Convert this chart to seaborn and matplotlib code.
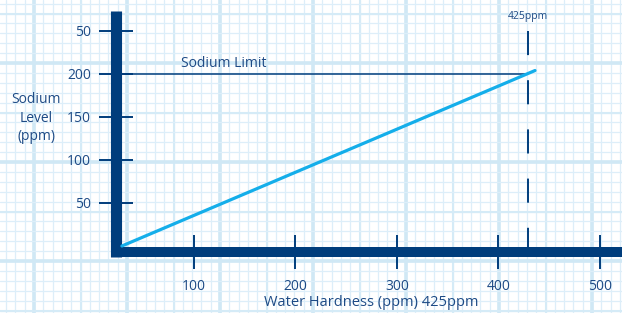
import numpy as np
import matplotlib
matplotlib.use("Agg")
import matplotlib.pyplot as plt
import seaborn as sns

# ── Data ──────────────────────────────────────────────────────────────
hardness = [29, 436]          # water hardness (ppm), line endpoints
sodium = [0, 204]             # sodium level (ppm)
sodium_limit = 200
limit_hardness = 429          # the "425ppm" marker
x_ticks = [100, 200, 300, 400, 500]
y_ticks = [50, 100, 150, 200, 250]
y_tick_labels = ["50", "100", "150", "200", "50"]

NAVY = "#003d7c"
TEXT = "#1d4a85"
CYAN = "#14aeea"

sns.set_style("white")
plt.rcParams["font.family"] = ["Open Sans", "DejaVu Sans"]

W, H = 622, 313
fig = plt.figure(figsize=(W / 100, H / 100), dpi=100)

# ── Graph paper background (pixel space) ──────────────────────────────
bg = fig.add_axes([0, 0, 1, 1])
bg.set_xlim(0, W)
bg.set_ylim(H, 0)
bg.axis("off")
for x in np.arange(34 - 9.3 * 5, W, 9.3):
    bg.axvline(x, color="#ddeef9", lw=0.9, zorder=0)
for x in np.arange(34 - 46.5, W, 46.5):
    bg.axvline(x, color="#d5ebf7", lw=1.5, zorder=0)
for x in np.arange(34, W, 93):
    bg.axvline(x, color="#d0e8f5", lw=2.6, zorder=0)
for y in np.arange(63 - 9.9 * 7, H, 9.9):
    bg.axhline(y, color="#ddeef9", lw=0.9, zorder=0)
for y in np.arange(63 - 49.5, H, 49.5):
    bg.axhline(y, color="#d5ebf7", lw=1.5, zorder=0)
for y in np.arange(63, H, 99):
    bg.axhline(y, color="#d0e8f5", lw=2.6, zorder=0)

# ── Main axes (data space) ────────────────────────────────────────────
ax = fig.add_axes([0, 0, 1, 1])
ax.patch.set_alpha(0)
ax.set_xlim(-91.1, 521.7)
ax.set_ylim(-77.9, 286)

sns.lineplot(x=hardness, y=sodium, ax=ax, color=CYAN, lw=2.3, zorder=3)
ax.hlines(sodium_limit, 23.6, limit_hardness, color=NAVY, lw=1.1, zorder=2)
# draw top-down so the dash pattern starts at the top
ax.plot([limit_hardness, limit_hardness], [250, -1], color=NAVY, lw=1.4,
        linestyle=(0, (12.4, 12.9)), solid_capstyle="butt",
        dash_capstyle="butt", zorder=2)

ax.text(87, sodium_limit + 4, "Sodium Limit", color=TEXT, fontsize=10,
        ha="left", va="bottom")
ax.text(limit_hardness, 267, "425ppm", color=TEXT, fontsize=7.5,
        ha="center", va="center")

# thick L-shaped axes
for side in ["top", "right"]:
    ax.spines[side].set_visible(False)
ax.spines["left"].set_position(("data", 23.6))
ax.spines["left"].set_bounds(-12.8, 273)
ax.spines["left"].set_linewidth(8)
ax.spines["left"].set_color(NAVY)
ax.spines["left"].set_capstyle("butt")
ax.spines["bottom"].set_position(("data", -7))
ax.spines["bottom"].set_bounds(18.2, 521.7)
ax.spines["bottom"].set_linewidth(7.2)
ax.spines["bottom"].set_color(NAVY)
ax.spines["bottom"].set_capstyle("butt")

ax.set_xticks(x_ticks)
ax.set_yticks(y_ticks)
ax.set_yticklabels(y_tick_labels)
ax.tick_params(axis="both", bottom=True, left=True, direction="inout",
               length=24.5, width=1.4, color=NAVY, labelcolor=TEXT,
               labelsize=10)
ax.tick_params(axis="x", pad=7)
ax.tick_params(axis="y", pad=6)

fig.text(371 / W, 1 - 303 / H, "Water Hardness (ppm) 425ppm", color=TEXT,
         fontsize=10.5, ha="center", va="center")
fig.text(36 / W, 1 - 118 / H, "Sodium\nLevel\n(ppm)", color=TEXT,
         fontsize=10, ha="center", va="center", linespacing=1.3)

fig.savefig("out.png", dpi=100)
